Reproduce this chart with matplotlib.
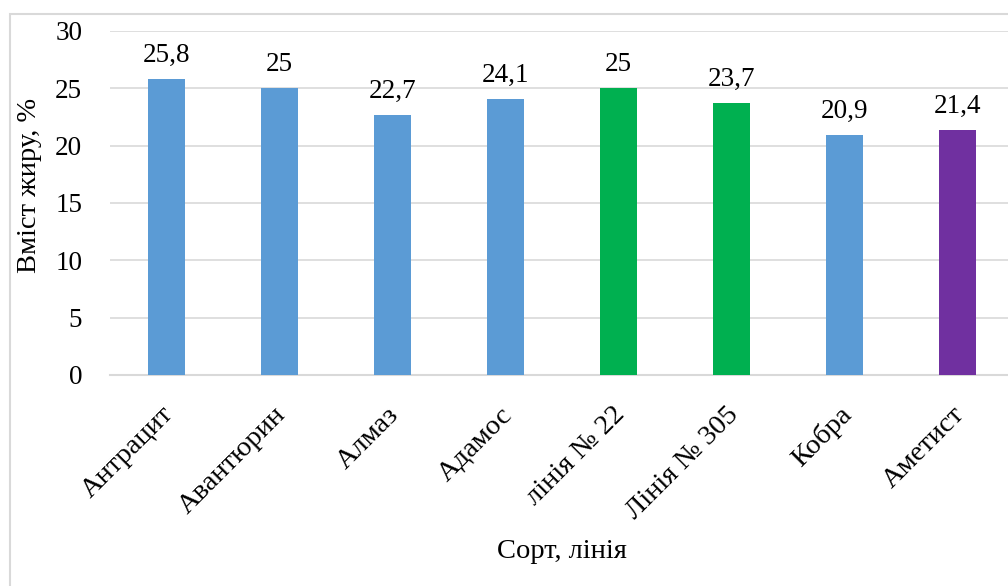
import matplotlib.pyplot as plt
import matplotlib.transforms as mtransforms
from matplotlib.patches import Rectangle

# ==========================
# Data
# ==========================
varieties = ["Антрацит", "Авантюрин", "Алмаз", "Адамос",
             "лінія № 22", "Лінія № 305", "Кобра", "Аметист"]
fat_content = [25.8, 25.0, 22.7, 24.1, 25.0, 23.7, 20.9, 21.4]
bar_colors = ["#5B9BD5", "#5B9BD5", "#5B9BD5", "#5B9BD5",
              "#00B050", "#00B050", "#5B9BD5", "#7030A0"]
y_ticks = [0, 5, 10, 15, 20, 25, 30]

FONT = "Liberation Serif"
plt.rcParams["font.family"] = "serif"
plt.rcParams["font.serif"] = [FONT, "DejaVu Serif"]

fig = plt.figure(figsize=(10.08, 5.86), dpi=100)

# light frame around the chart (right and bottom run off the picture)
fig.patches.append(Rectangle((10 / 1008, -0.05), 1.1, 1 - 14 / 586 + 0.05,
                             transform=fig.transFigure, fill=False,
                             edgecolor="#D9D9D9", linewidth=1.5))

ax = fig.add_axes([110 / 1008, 211 / 586, 904 / 1008, 344 / 586])

x = range(len(varieties))
bars = ax.bar(x, fat_content, width=0.32, color=bar_colors, zorder=3)

for xi, v in zip(x, fat_content):
    label = f"{v:g}".replace(".", ",")
    ax.annotate(label, (xi, v), xytext=(0, 8), textcoords="offset points",
                ha="center", va="bottom", fontsize=19.5, family=FONT)

ax.set_xlim(-0.5, len(varieties) - 0.5)
ax.set_ylim(0, 30)
ax.set_yticks(y_ticks)
ax.set_yticklabels([str(t) for t in y_ticks], fontsize=19.5, family=FONT)
ax.set_xticks(list(x))
ax.set_xticklabels(varieties, rotation=45, ha="right", rotation_mode="anchor",
                   fontsize=20.5, family=FONT)
ax.tick_params(axis="y", length=0, pad=20)
ax.tick_params(axis="x", length=0, pad=19.5)

# nudge rotated category labels a little to the left
shift = mtransforms.ScaledTranslation(-0.06, 0, fig.dpi_scale_trans)
for lbl in ax.get_xticklabels():
    lbl.set_transform(lbl.get_transform() + shift)

ax.grid(axis="y", color="#D9D9D9", linewidth=1.2, zorder=0)
for side in ["top", "right", "left"]:
    ax.spines[side].set_visible(False)
ax.spines["bottom"].set_color("#D9D9D9")
ax.spines["bottom"].set_linewidth(1.5)

ax.set_ylabel("Вміст жиру, %", fontsize=20.5, family=FONT)
ax.yaxis.set_label_coords(-0.075, 0.552)
ax.set_xlabel("Сорт, лінія", fontsize=20.5, labelpad=11, family=FONT)

plt.savefig("out.png", dpi=100)
